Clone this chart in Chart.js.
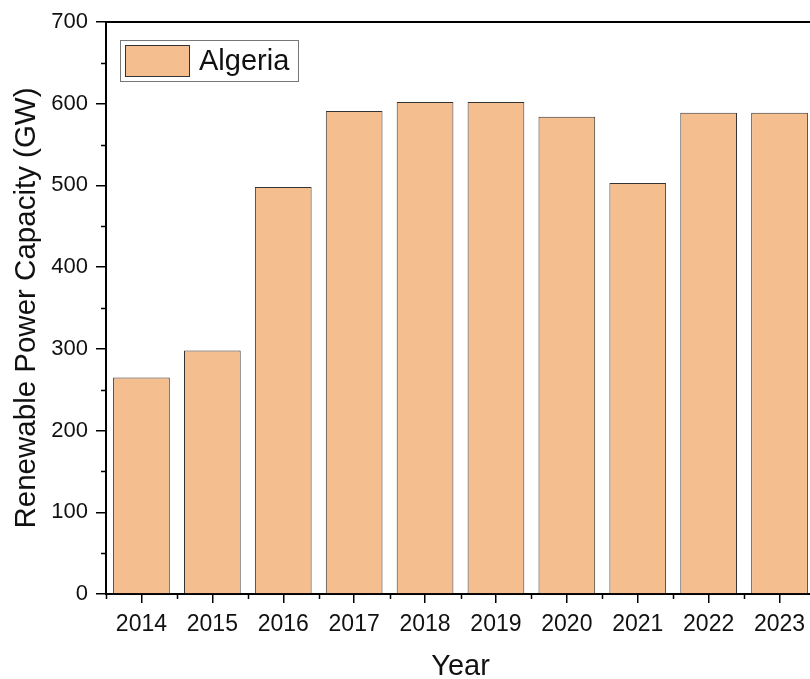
<!DOCTYPE html>
<html>
<head>
<meta charset="utf-8">
<script src="https://cdn.jsdelivr.net/npm/chart.js@4"></script>
<style>
  html, body { margin: 0; padding: 0; background: #fff; overflow: hidden; }
  #wrap { width: 815px; height: 679px; }
</style>
</head>
<body>
<div id="wrap"><canvas id="chartRenovavel"></canvas></div>
<script>
Chart.defaults.font.family = "'Liberation Sans', Arial, sans-serif";
Chart.defaults.color = '#111';

const anos = ['2014', '2015', '2016', '2017', '2018', '2019', '2020', '2021', '2022', '2023'];
const capacidade = [265, 298, 498, 591, 602, 602, 584, 503, 589, 589];
const serie = 'Algeria';

// ticks menores, borda de cima e legenda
const extras = {
    id: 'extras',
    afterDraw(chart) {
        const { ctx, chartArea: { top, right, bottom, left }, scales: { x, y } } = chart;
        ctx.save();
        ctx.strokeStyle = '#000';
        ctx.lineWidth = 1.5;
        ctx.beginPath();
        for (let v = 50; v < 700; v += 100) {
            const py = Math.round(y.getPixelForValue(v)) + 0.5;
            ctx.moveTo(left - 5, py);
            ctx.lineTo(left, py);
        }
        for (let i = 0; i <= anos.length; i++) {
            const px = Math.round(x.getPixelForValue(i - 0.5)) + 0.5;
            ctx.moveTo(px, bottom);
            ctx.lineTo(px, bottom + 5);
        }
        ctx.stroke();

        ctx.lineWidth = 2;
        ctx.beginPath();
        ctx.moveTo(left, top);
        ctx.lineTo(right + 5, top);
        ctx.stroke();

        // legenda
        ctx.lineWidth = 1;
        ctx.strokeStyle = '#777';
        ctx.strokeRect(120.5, 40.5, 178, 41);
        ctx.fillStyle = '#F5BE8F';
        ctx.fillRect(125, 45, 65, 32);
        ctx.strokeStyle = '#333';
        ctx.strokeRect(125.5, 45.5, 64, 31);
        ctx.fillStyle = '#111';
        ctx.font = "29px 'Liberation Sans', Arial, sans-serif";
        ctx.textBaseline = 'middle';
        ctx.fillText(serie, 199, 62);
        ctx.restore();
    }
};

new Chart(document.getElementById('chartRenovavel'), {
    type: 'bar',
    data: {
        labels: anos,
        datasets: [{
            label: serie,
            data: capacidade,
            backgroundColor: '#F5BE8F',
            borderColor: '#333333',
            borderWidth: 1,
            categoryPercentage: 1,
            barPercentage: 0.8
        }]
    },
    options: {
        responsive: true,
        maintainAspectRatio: false,
        animation: false,
        layout: { padding: { left: 8, top: 22, right: 0, bottom: 0 } },
        plugins: { legend: { display: false }, tooltip: { enabled: false } },
        scales: {
            x: {
                offset: true,
                grid: { display: true, drawOnChartArea: false, offset: false, tickLength: 9, color: '#000', lineWidth: 1.5 },
                border: { display: true, color: '#000', width: 2 },
                ticks: { font: { size: 23 }, color: '#111', padding: 8, maxRotation: 0 },
                title: { display: true, text: 'Year', font: { size: 29, lineHeight: 1 }, color: '#111', padding: { top: 0, bottom: -2 } },
                afterFit(scale) { scale.height = 85; }
            },
            y: {
                min: 0,
                max: 700,
                ticks: { stepSize: 100, font: { size: 22 }, color: '#111', padding: 8 },
                grid: { display: true, drawOnChartArea: false, tickLength: 10, color: '#000', lineWidth: 1.5 },
                border: { display: true, color: '#000', width: 2 },
                title: { display: true, text: 'Renewable Power Capacity (GW)', font: { size: 29.5, lineHeight: 1 }, color: '#111', padding: { top: 4, bottom: 0 } },
                afterFit(scale) { scale.width = 98; }
            }
        }
    },
    plugins: [extras]
});
</script>
</body>
</html>
